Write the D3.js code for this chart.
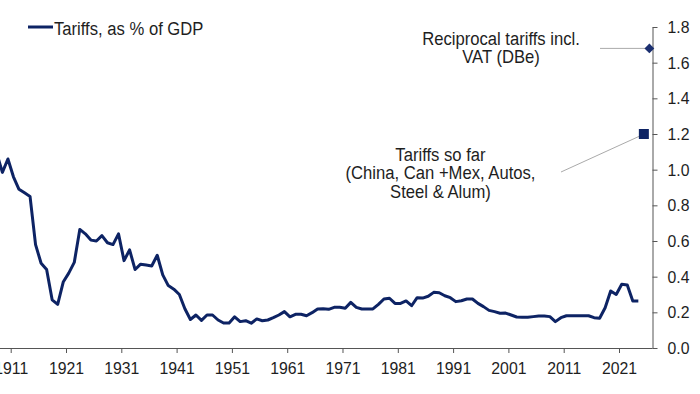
<!DOCTYPE html>
<html>
<head>
<meta charset="utf-8">
<script src="https://cdn.jsdelivr.net/npm/d3@7"></script>
<style>
  body { margin: 0; background: #fff; }
  svg { display: block; font-family: "Liberation Sans", Arial, sans-serif; }
</style>
</head>
<body>
<svg id="chart" width="700" height="394"></svg>
<script>
// Tariff revenue as % of GDP, one value per year
const years = d3.range(1908, 2025);
const tariffShare = [
  1.09, 0.985, 1.06, 0.96, 0.89, 0.87, 0.85, 0.58, 0.475, 0.44,
  0.27, 0.245, 0.37, 0.42, 0.48, 0.665, 0.64, 0.605, 0.60, 0.63,
  0.59, 0.58, 0.64, 0.49, 0.55, 0.44, 0.47, 0.465, 0.46, 0.52,
  0.41, 0.35, 0.33, 0.30, 0.22, 0.16, 0.185, 0.155, 0.185, 0.185,
  0.157, 0.14, 0.14, 0.175, 0.148, 0.153, 0.139, 0.163, 0.153, 0.157,
  0.17, 0.185, 0.204, 0.175, 0.189, 0.189, 0.181, 0.198, 0.219, 0.22,
  0.217, 0.228, 0.228, 0.223, 0.256, 0.228, 0.219, 0.219, 0.219, 0.245,
  0.275, 0.279, 0.25, 0.25, 0.264, 0.237, 0.282, 0.28, 0.29, 0.312,
  0.31, 0.293, 0.282, 0.26, 0.265, 0.275, 0.275, 0.25, 0.232, 0.211,
  0.204, 0.195, 0.196, 0.185, 0.174, 0.172, 0.172, 0.176, 0.18, 0.18,
  0.176, 0.148, 0.17, 0.181, 0.181, 0.181, 0.181, 0.181, 0.17, 0.167,
  0.226, 0.32, 0.30, 0.357, 0.353, 0.264, 0.264
];

// Scenario markers
const scenarioNames = ["Tariffs so far", "Reciprocal tariffs incl. VAT (DBe)"];
const scenarioYears = [2025, 2026];
const scenarioValues = [1.2, 1.68];

const xTickYears = d3.range(1911, 2022, 10);
const yTicks = d3.range(0, 1.81, 0.2);

const navy = "#0d2364";
const textColor = "#1e1e1e";
const svg = d3.select("#chart");

const midYear = y => new Date(y, 6, 1);

const x = d3.scaleTime()
  .domain([new Date(1911, 0, 1), new Date(2021, 0, 1)])
  .range([10.7, 619]);
const xEnd = 652.5;

const y = d3.scaleLinear().domain([0, 1.8]).range([348, 27]);

// x axis
const xAxis = svg.append("g")
  .attr("transform", `translate(0,${y(0)})`)
  .call(d3.axisBottom(x)
    .tickValues(xTickYears.map(v => new Date(v, 0, 1)))
    .tickFormat(d3.timeFormat("%Y"))
    .tickSize(5)
    .tickSizeOuter(0));
xAxis.select(".domain").attr("d", `M0,0.5H${xEnd}`);

// y axis on the right
const yAxis = svg.append("g")
  .attr("transform", `translate(${xEnd},0)`)
  .call(d3.axisRight(y)
    .tickValues(yTicks)
    .tickFormat(d3.format(".1f"))
    .tickSize(5)
    .tickSizeOuter(0));

// the source picture is slightly squeezed sideways, so the labels are too
svg.selectAll(".tick text")
  .style("font-size", "17px")
  .attr("fill", textColor)
  .attr("transform", "scale(0.93,1)");
xAxis.selectAll(".tick text").attr("y", 14);
yAxis.selectAll(".tick text").attr("x", 15 / 0.93);
svg.selectAll(".domain, .tick line").attr("stroke", "#555");

// main line
const data = years.map((yr, i) => ({ date: midYear(yr), value: tariffShare[i] }));
svg.append("path")
  .datum(data)
  .attr("fill", "none")
  .attr("stroke", navy)
  .attr("stroke-width", 3)
  .attr("stroke-linejoin", "round")
  .attr("d", d3.line().x(d => x(d.date)).y(d => y(d.value)));

// leader lines
const sx = x(midYear(scenarioYears[0])), sy = y(scenarioValues[0]);
const rx = x(midYear(scenarioYears[1])), ry = y(scenarioValues[1]);
svg.append("line")
  .attr("x1", 561).attr("y1", sy + 38)
  .attr("x2", sx - 4).attr("y2", sy + 2)
  .attr("stroke", "#aaa").attr("stroke-width", 1);
svg.append("line")
  .attr("x1", 600).attr("y1", ry)
  .attr("x2", rx).attr("y2", ry)
  .attr("stroke", "#aaa").attr("stroke-width", 1);

// markers
svg.append("rect")
  .attr("x", sx - 5).attr("y", sy - 5)
  .attr("width", 10).attr("height", 10)
  .attr("fill", navy);
svg.append("path")
  .attr("d", d3.symbol(d3.symbolSquare, 48)())
  .attr("transform", `translate(${rx},${ry}) rotate(45)`)
  .attr("fill", "#1b2f70");

// annotations
const note = (lines, cx, cy, lh, anchor = "middle") => {
  const t = svg.append("g")
    .attr("transform", `translate(${cx},${cy}) scale(0.9,1)`)
    .append("text")
    .attr("text-anchor", anchor)
    .attr("fill", textColor)
    .style("font-size", "18.5px");
  lines.forEach((s, i) => t.append("tspan")
    .attr("x", 0).attr("y", i * lh).text(s));
};
note(["Reciprocal tariffs incl.", "VAT (DBe)"], 501, 44.5, 19);
note(["Tariffs so far", "(China, Can +Mex, Autos,", "Steel & Alum)"], 440.5, 160.5, 18.8);

// legend
svg.append("line")
  .attr("x1", 28).attr("x2", 53).attr("y1", 27).attr("y2", 27)
  .attr("stroke", navy).attr("stroke-width", 3);
note(["Tariffs, as % of GDP"], 54, 35, 0, "start");
</script>
</body>
</html>
